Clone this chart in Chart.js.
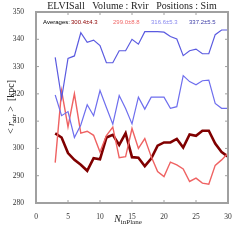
<!DOCTYPE html>
<html>
<head>
<meta charset="utf-8">
<script src="https://cdn.jsdelivr.net/npm/chart.js@4.4.1/dist/chart.umd.min.js"></script>
<style>
  html, body { margin: 0; padding: 0; background: #fff; }
  #wrap { width: 240px; height: 240px; position: relative; }
</style>
</head>
<body>
<div id="wrap"><canvas id="mainChartCanvas"></canvas></div>
<script>
// data
let nInPlane = [3, 4, 5, 6, 7, 8, 9, 10, 11, 12, 13, 14, 15, 16, 17, 18, 19, 20, 21, 22, 23, 24, 25, 26, 27, 28, 29, 30];

let darkRed = [305.5, 304, 298.3, 295.8, 294, 291.8, 296.4, 296, 304, 305, 301.3, 305.6, 296.8, 296.6,
    293.5, 296.3, 301, 302.2, 302.2, 303.5, 300.3, 305.1, 304.6, 306.5, 306.5, 301.8, 298.7, 297];

let lightRed = [294.8, 321.1, 307.9, 320, 305.6, 306.3, 304.8, 298.7, 304.7, 307.8, 296.6, 297, 307.3, 300,
    303.6, 297, 291.5, 289.7, 295, 294, 292.5, 287.9, 289.1, 287.3, 286.9, 293.8, 295.8, 298.2];

let lightBlue = [319.6, 312, 313.5, 304, 308.6, 316, 312, 321.2, 315, 308.9, 319.4, 314.6, 309, 318.8,
    314.4, 318.8, 318.8, 318.8, 314.7, 315.3, 326.7, 324.5, 323.3, 324.8, 325, 316.5, 314.7, 314.7];

let darkBlue = [333.4, 318.4, 333, 333.9, 342.4, 338.9, 339.7, 337.7, 331.4, 331.4, 335.8, 335.8, 340, 338.2,
    342.8, 342.8, 342.8, 342.6, 341, 340.1, 334, 335.8, 336.4, 334.7, 334.7, 341.7, 343.4, 343.4];

let averageLabels = ['300.4\u00b14.3', '299.0\u00b18.8', '316.6\u00b15.3', '337.2\u00b15.5'];

let xTicks = [0, 5, 10, 15, 20, 25, 30];
let yTicks = [280, 290, 300, 310, 320, 330, 340, 350];

const serif = '"Liberation Serif", "DejaVu Serif", serif';
const sans = '"Liberation Sans", "DejaVu Sans", sans-serif';

function pts(vals) {
    return vals.map((v, i) => ({ x: nInPlane[i], y: v }));
}

// frame, inward ticks, title, averages row, axis titles
const decorPlugin = {
    id: 'decor',
    afterDraw(chart) {
        const ctx = chart.ctx;
        const a = chart.chartArea;
        const xs = chart.scales.x, ys = chart.scales.y;
        ctx.save();
        ctx.strokeStyle = '#a0a0a0';
        ctx.lineWidth = 1;
        xTicks.forEach(t => {
            const px = xs.getPixelForValue(t);
            ctx.beginPath();
            ctx.moveTo(px, a.bottom); ctx.lineTo(px, a.bottom - 3);
            ctx.moveTo(px, a.top); ctx.lineTo(px, a.top + 3);
            ctx.stroke();
        });
        yTicks.forEach(t => {
            const py = ys.getPixelForValue(t);
            ctx.beginPath();
            ctx.moveTo(a.left, py); ctx.lineTo(a.left + 3, py);
            ctx.moveTo(a.right, py); ctx.lineTo(a.right - 3, py);
            ctx.stroke();
        });
        ctx.lineWidth = 2;
        ctx.strokeRect(a.left, a.top, a.right - a.left, a.bottom - a.top);

        // title
        ctx.fillStyle = '#222';
        ctx.font = '10px ' + serif;
        ctx.textAlign = 'center';
        ctx.textBaseline = 'middle';
        ctx.fillText('ELVISall   Volume : Rvir   Positions : Sim', 132, 6);

        // averages row
        ctx.font = '6px ' + sans;
        ctx.textAlign = 'left';
        ctx.fillStyle = '#000';
        ctx.fillText('Averages:', 43, 22);
        const cols = ['#8b0000', '#f06a6a', '#8888ee', '#4040a8'];
        const xPos = [71, 113, 151, 189];
        averageLabels.forEach((s, i) => {
            ctx.fillStyle = cols[i];
            ctx.fillText(s, xPos[i], 22);
        });

        // y title
        ctx.fillStyle = '#222';
        ctx.save();
        ctx.translate(11, 107);
        ctx.rotate(-Math.PI / 2);
        ctx.textAlign = 'left';
        const p1 = '< ', p2 = 'r', p3 = 'vir', p4 = ' >  [kpc]';
        ctx.font = '10px ' + serif;
        const w1 = ctx.measureText(p1).width;
        ctx.font = 'italic 10px ' + serif;
        const w2 = ctx.measureText(p2).width;
        ctx.font = '7px ' + serif;
        const w3 = ctx.measureText(p3).width;
        ctx.font = '10px ' + serif;
        const w4 = ctx.measureText(p4).width;
        let x0 = -(w1 + w2 + w3 + w4) / 2;
        ctx.font = '10px ' + serif; ctx.fillText(p1, x0, 0); x0 += w1;
        ctx.font = 'italic 10px ' + serif; ctx.fillText(p2, x0, 0); x0 += w2;
        ctx.font = '7px ' + serif; ctx.fillText(p3, x0, 3); x0 += w3;
        ctx.font = '10px ' + serif; ctx.fillText(p4, x0, 0);
        ctx.restore();

        // x title
        ctx.textAlign = 'left';
        ctx.font = 'italic 10px ' + serif;
        const wn = ctx.measureText('N').width;
        ctx.font = '7px ' + serif;
        const ws = ctx.measureText('inPlane').width;
        let xx = 128 - (wn + ws) / 2;
        ctx.font = 'italic 10px ' + serif;
        ctx.fillText('N', xx, 219);
        ctx.font = '7px ' + serif;
        ctx.fillText('inPlane', xx + wn, 222);
        ctx.restore();
    }
};

const mainChartConfig = {
    type: 'line',
    data: {
        datasets: [{
            label: 'darkBlue',
            data: pts(darkBlue),
            borderColor: '#5a5ae0',
            borderWidth: 1.2
        }, {
            label: 'lightBlue',
            data: pts(lightBlue),
            borderColor: '#6e6eee',
            borderWidth: 1.2
        }, {
            label: 'lightRed',
            data: pts(lightRed),
            borderColor: '#ef6262',
            borderWidth: 1.4
        }, {
            label: 'darkRed',
            data: pts(darkRed),
            borderColor: '#800000',
            borderWidth: 2.6
        }]
    },
    options: {
        responsive: true,
        maintainAspectRatio: false,
        animation: false,
        elements: {
            point: { radius: 0 },
            line: { tension: 0, fill: false }
        },
        layout: { padding: { top: 12, right: 12, left: 0, bottom: 0 } },
        scales: {
            x: {
                type: 'linear',
                min: 0,
                max: 30,
                afterFit: s => { s.height = 37; },
                afterBuildTicks: s => { s.ticks = xTicks.map(v => ({ value: v })); },
                grid: { display: false },
                border: { display: false },
                ticks: { color: '#333', padding: 2, maxRotation: 0, font: { family: serif, size: 7.5 } }
            },
            y: {
                min: 280,
                max: 350,
                afterFit: s => { s.width = 36; },
                afterBuildTicks: s => { s.ticks = yTicks.map(v => ({ value: v })); },
                grid: { display: false },
                border: { display: false },
                ticks: { color: '#333', padding: 4, font: { family: serif, size: 7.5 } }
            }
        },
        plugins: {
            legend: { display: false },
            tooltip: { enabled: false }
        }
    },
    plugins: [decorPlugin]
};

const mainChart = new Chart(document.getElementById('mainChartCanvas').getContext('2d'), mainChartConfig);
</script>
</body>
</html>
